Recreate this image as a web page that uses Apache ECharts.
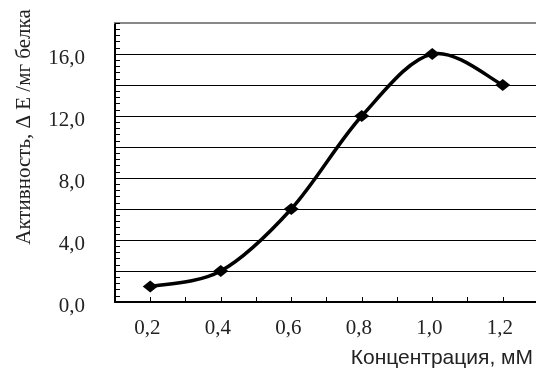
<!DOCTYPE html>
<html><head><meta charset="utf-8">
<script src="https://cdn.jsdelivr.net/npm/echarts@6/dist/echarts.min.js"></script>
<style>html,body{margin:0;padding:0;background:#fff}#c{width:536px;height:368px}</style>
</head><body><div id="c"></div>
<script>
const concentrations = [0.2, 0.4, 0.6, 0.8, 1.0, 1.2];
const activity = [1.0, 2.0, 6.0, 12.0, 16.0, 14.0];
const yTickLabels = [0, 4, 8, 12, 16];
const xTickLabels = [0.2, 0.4, 0.6, 0.8, 1.0, 1.2];
const xTitle = 'Концентрация, мМ';
const yTitle = 'Активность, \u0394 E /мг белка';

const serif = '"Liberation Serif", "DejaVu Serif", serif';
const fmt = v => v.toFixed(1).replace('.', ',');
const near = (arr, v) => arr.some(a => Math.abs(a - v) < 1e-6);
const points = concentrations.map((c, i) => [c, activity[i]]);

// Smooth curve (Catmull-Rom) through the data points, positioned via the axes.
function renderCurve(params, api) {
  if (params.dataIndex !== 0) return null;
  const p = points.map(d => api.coord(d));
  const n = p.length;
  const children = [];
  for (let i = 0; i < n - 1; i++) {
    const p0 = p[Math.max(i - 1, 0)], p1 = p[i], p2 = p[i + 1], p3 = p[Math.min(i + 2, n - 1)];
    children.push({
      type: 'bezierCurve',
      shape: {
        x1: p1[0], y1: p1[1], x2: p2[0], y2: p2[1],
        cpx1: p1[0] + (p2[0] - p0[0]) / 6, cpy1: p1[1] + (p2[1] - p0[1]) / 6,
        cpx2: p2[0] - (p3[0] - p1[0]) / 6, cpy2: p2[1] - (p3[1] - p1[1]) / 6
      },
      style: {stroke: '#000', lineWidth: 3.5, fill: null, lineJoin: 'round', lineCap: 'round'}
    });
  }
  return {type: 'group', children: children};
}

const chart = echarts.init(document.getElementById('c'), null, {renderer: 'canvas'});
chart.setOption({
  animation: false,
  backgroundColor: '#fff',
  grid: {left: 115, right: -2, top: 23, bottom: 66, outerBoundsMode: 'none', containLabel: false},
  xAxis: [{
    type: 'value', min: 0.1, max: 1.3, interval: 0.1,
    axisLine: {show: true, lineStyle: {color: '#000', width: 2}},
    axisTick: {show: true, inside: true, length: 5, lineStyle: {color: '#000', width: 1}},
    axisLabel: {
      margin: 19, fontFamily: serif, fontSize: 21, color: '#222', lineHeight: 14,
      padding: [0, 6, 0, 0],
      formatter: v => near(xTickLabels, v) ? fmt(v) : '',
      showMinLabel: true, showMaxLabel: true
    },
    splitLine: {show: false}
  }, {
    type: 'value', position: 'top', min: 0.1, max: 1.3,
    axisLine: {show: true, lineStyle: {color: '#888', width: 2}},
    axisTick: {show: false}, axisLabel: {show: false}, splitLine: {show: false}
  }],
  yAxis: {
    type: 'value', min: 0, max: 18, interval: 2,
    axisLine: {show: true, lineStyle: {color: '#000', width: 2}},
    axisTick: {show: true, inside: true, length: 5, lineStyle: {color: '#000'}},
    minorTick: {show: true, splitNumber: 5, length: 5, lineStyle: {color: '#000'}},
    axisLabel: {
      margin: 30, fontFamily: serif, fontSize: 21, color: '#222',
      verticalAlign: 'top', lineHeight: 9,
      formatter: v => near(yTickLabels, v) ? fmt(v) : ''
    },
    splitLine: {show: true, lineStyle: {color: '#000', width: 1}}
  },
  graphic: [{
    type: 'text', x: 24, y: 127, rotation: Math.PI / 2,
    style: {text: yTitle, font: '21px "Liberation Serif", serif', fill: '#222',
            align: 'center', verticalAlign: 'middle'}
  }, {
    type: 'text', x: 533, y: 358,
    style: {text: xTitle, font: '21px "Liberation Sans", Arial, sans-serif', fill: '#222',
            align: 'right', verticalAlign: 'middle'}
  }],
  series: [{
    type: 'custom',
    renderItem: renderCurve,
    data: points,
    z: 3
  }, {
    type: 'scatter',
    data: points,
    symbol: 'diamond', symbolSize: [15, 12],
    itemStyle: {color: '#000', opacity: 1},
    z: 4
  }]
});
</script></body></html>
